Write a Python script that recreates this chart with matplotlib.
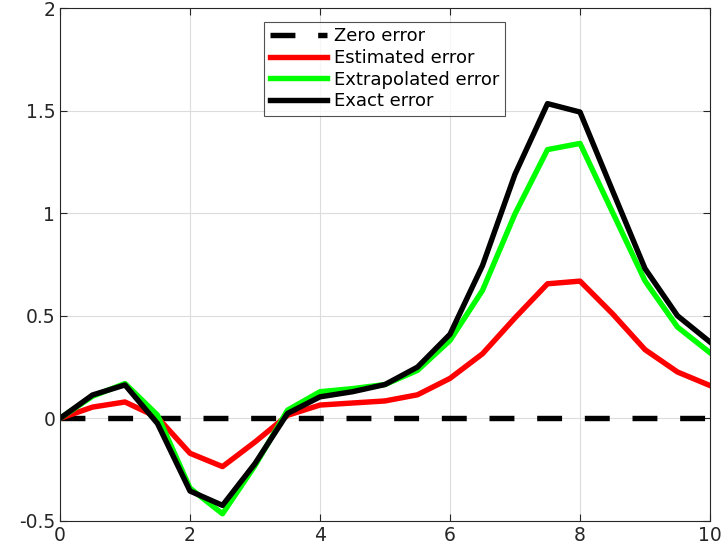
import matplotlib.pyplot as plt

# x grid and the three error curves
t = [0, 0.5, 1, 1.5, 2, 2.5, 3, 3.5, 4, 4.5, 5, 5.5, 6, 6.5, 7, 7.5, 8, 8.5, 9, 9.5, 10]
estimated = [0, 0.055, 0.08, 0.005, -0.17, -0.235, -0.115, 0.015, 0.065, 0.075, 0.085, 0.115,
             0.195, 0.315, 0.49, 0.656, 0.669, 0.51, 0.335, 0.226, 0.16]
extrapolated = [0, 0.108, 0.17, 0.016, -0.34, -0.465, -0.23, 0.04, 0.13, 0.145, 0.165, 0.234,
                0.38, 0.624, 0.997, 1.31, 1.34, 1.005, 0.67, 0.445, 0.32]
exact = [0, 0.114, 0.163, -0.025, -0.354, -0.424, -0.22, 0.024, 0.105, 0.13, 0.165, 0.25,
         0.41, 0.745, 1.19, 1.534, 1.493, 1.11, 0.73, 0.50, 0.372]
zero = [0] * len(t)

xticks = [0, 2, 4, 6, 8, 10]
yticks = [-0.5, 0, 0.5, 1, 1.5, 2]
ytick_labels = ['-0.5', '0', '0.5', '1', '1.5', '2']

fig = plt.figure(figsize=(7.22, 5.53), dpi=100)
ax = fig.add_axes([0.0831, 0.0579, 0.9003, 0.9276])

lw = 3.9
ax.plot(t, zero, color='black', lw=lw, dashes=(4.6, 4.2), label='Zero error')
ax.plot(t, estimated, color='#ff0000', lw=lw, label='Estimated error')
ax.plot(t, extrapolated, color='#00ff00', lw=lw, label='Extrapolated error')
ax.plot(t, exact, color='black', lw=lw, label='Exact error')

ax.set_xlim(0, 10)
ax.set_ylim(-0.5, 2)
ax.set_xticks(xticks)
ax.set_yticks(yticks)
ax.set_yticklabels(ytick_labels)
ax.grid(True, color='#dcdcdc', lw=0.8)
ax.set_axisbelow(True)
ax.tick_params(direction='in', top=True, right=True, labelsize=13.5,
               colors='#262626', length=5, width=0.8)
for s in ax.spines.values():
    s.set_color('#262626')
    s.set_linewidth(0.8)

leg = ax.legend(loc='upper center', bbox_to_anchor=(0.499, 0.973), fontsize=13,
                frameon=True, fancybox=False, edgecolor='#262626',
                handlelength=3.2, handletextpad=0.35, borderpad=0.3,
                labelspacing=0.2, borderaxespad=0)
leg.get_frame().set_linewidth(0.8)

plt.savefig('out.png', dpi=100)
plt.close()
